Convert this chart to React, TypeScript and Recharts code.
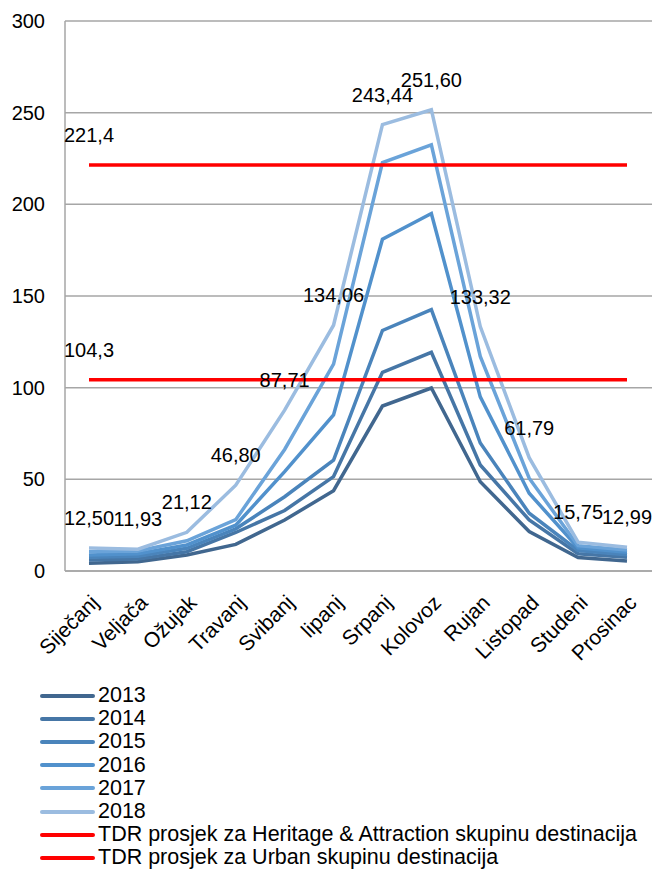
import { CartesianGrid, LabelList, Line, LineChart, XAxis, YAxis } from 'recharts'

const FONT = '"Liberation Sans", Arial, Helvetica, sans-serif'

const months = [
  'Siječanj', 'Veljača', 'Ožujak', 'Travanj', 'Svibanj', 'lipanj',
  'Srpanj', 'Kolovoz', 'Rujan', 'Listopad', 'Studeni', 'Prosinac'
]

const y2013 = [4.2, 5.0, 8.7, 14.5, 27.8, 43.8, 90.0, 99.8, 48.7, 21.5, 7.3, 5.4]
const y2014 = [6.0, 6.6, 10.5, 21.0, 33.0, 51.5, 108.4, 119.3, 57.8, 27.8, 9.4, 7.5]
const y2015 = [7.5, 8.0, 12.4, 23.0, 40.5, 60.5, 131.2, 142.6, 69.8, 31.5, 11.2, 8.9]
const y2016 = [8.7, 9.4, 14.2, 25.0, 54.2, 85.1, 181.0, 195.0, 95.0, 42.4, 12.7, 10.2]
const y2017 = [10.5, 10.9, 16.5, 28.0, 66.3, 112.8, 222.8, 232.4, 117.0, 50.6, 13.8, 11.5]
const y2018 = [12.5, 11.93, 21.12, 46.8, 87.71, 134.06, 243.44, 251.6, 133.32, 61.79, 15.75, 12.99]

const heritageAvg = 221.4
const urbanAvg = 104.3

const yTicks = [0, 50, 100, 150, 200, 250, 300]

const years = [
  { key: 'y2013', name: '2013', color: '#41678f' },
  { key: 'y2014', name: '2014', color: '#4676a6' },
  { key: 'y2015', name: '2015', color: '#4a84bb' },
  { key: 'y2016', name: '2016', color: '#5191cc' },
  { key: 'y2017', name: '2017', color: '#6aa3d9' },
  { key: 'y2018', name: '2018', color: '#9bbce0' }
]

const averages = [
  { key: 'heritage', name: 'TDR prosjek za Heritage & Attraction skupinu destinacija', color: '#ff0000' },
  { key: 'urban', name: 'TDR prosjek za Urban skupinu destinacija', color: '#ff0000' }
]

const data = months.map((month, i) => ({
  month,
  y2013: y2013[i],
  y2014: y2014[i],
  y2015: y2015[i],
  y2016: y2016[i],
  y2017: y2017[i],
  y2018: y2018[i],
  heritage: heritageAvg,
  urban: urbanAvg
}))

const fmt2 = (v: number) => v.toFixed(2).replace('.', ',')
const fmt1 = (v: number) => v.toFixed(1).replace('.', ',')

function MonthTick({ x, y, payload }: any) {
  const tx = x + 11
  const ty = y + 33
  return (
    <text
      x={tx}
      y={ty}
      transform={`rotate(-45 ${tx} ${ty})`}
      textAnchor="end"
      fontSize={21}
      fontFamily={FONT}
      fill="#000"
    >
      {payload.value}
    </text>
  )
}

function makeLabel(format: (v: number) => string, onlyFirst: boolean) {
  return function ValueLabel({ x, y, value, index }: any) {
    if (onlyFirst && index !== 0) return null
    return (
      <text x={x} y={y - 23} textAnchor="middle" fontSize={20} fontFamily={FONT} fill="#000">
        {format(Number(value))}
      </text>
    )
  }
}

export default function App() {
  const legendItems = [...years, ...averages]
  return (
    <div style={{ position: 'absolute', left: 0, top: 0, width: 658, height: 870, background: '#fff' }}>
      <LineChart
        width={658}
        height={680}
        data={data}
        margin={{ top: 21, right: 6, bottom: 9, left: 0 }}
      >
        <CartesianGrid vertical={false} stroke="#a6a6a6" strokeWidth={1.5} />
        <XAxis
          dataKey="month"
          interval={0}
          padding={{ left: 24, right: 25 }}
          tickLine={false}
          tickSize={0}
          tickMargin={0}
          height={100}
          axisLine={{ stroke: '#a6a6a6', strokeWidth: 1.5 }}
          tick={<MonthTick />}
        />
        <YAxis
          width={65}
          domain={[0, 300]}
          ticks={yTicks}
          interval={0}
          tickLine={false}
          tickSize={0}
          tickMargin={20}
          axisLine={{ stroke: '#a6a6a6', strokeWidth: 1.5 }}
          tick={{ fontSize: 20, fontFamily: FONT, fill: '#000' }}
        />
        {years.map((s) => (
          <Line
            key={s.key}
            dataKey={s.key}
            name={s.name}
            stroke={s.color}
            strokeWidth={3.5}
            dot={false}
            activeDot={false}
            isAnimationActive={false}
          />
        ))}
        {averages.map((s) => (
          <Line
            key={s.key}
            dataKey={s.key}
            name={s.name}
            stroke={s.color}
            strokeWidth={3.5}
            dot={false}
            activeDot={false}
            isAnimationActive={false}
          >
            <LabelList dataKey={s.key} content={makeLabel(fmt1, true)} />
          </Line>
        ))}
        {/* labels of 2018 on top of every line */}
        <Line
          dataKey="y2018"
          stroke="none"
          dot={false}
          activeDot={false}
          legendType="none"
          isAnimationActive={false}
        >
          <LabelList dataKey="y2018" content={makeLabel(fmt2, false)} />
        </Line>
      </LineChart>
      <div style={{ position: 'absolute', left: 40, top: 684, fontFamily: FONT, fontSize: 21.5, lineHeight: '23.2px', color: '#000' }}>
        {legendItems.map((s) => (
          <div key={s.key} style={{ display: 'flex', alignItems: 'center', height: 23.2, whiteSpace: 'nowrap' }}>
            <span style={{ display: 'inline-block', width: 55, height: 4, borderRadius: 2, background: s.color, marginRight: 3 }} />
            <span>{s.name}</span>
          </div>
        ))}
      </div>
    </div>
  )
}
